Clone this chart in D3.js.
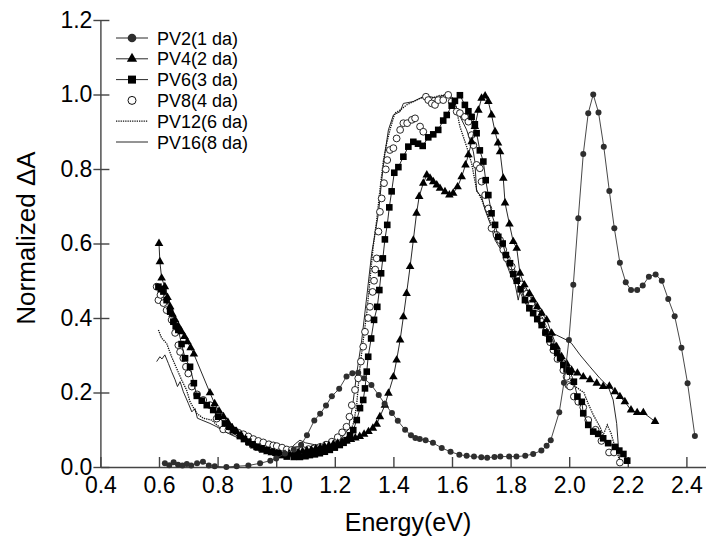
<!DOCTYPE html>
<html>
<head>
<meta charset="UTF-8">
<title>Normalized transient absorption</title>
<script src="https://cdn.jsdelivr.net/npm/d3@7"></script>
<style>
  body { margin: 0; background: #fff; }
  text { font-family: "Liberation Sans", Arial, Helvetica, sans-serif; }
</style>
</head>
<body>
<script>
// [energy (eV), normalized dA]
const pv2 = [[0.62,0.010],[0.635,0.005],[0.65,0.013],[0.665,0.006],[0.68,0.004],[0.695,0.008],[0.71,0.004],[0.73,0.010],[0.75,0.014],[0.77,0.004],[0.79,0.002],[0.83,0.000],[0.865,0.002],[0.905,0.004],[0.945,0.010],[0.98,0.017],[1.00,0.023],[1.03,0.036],[1.06,0.047],[1.085,0.060],[1.105,0.085],[1.13,0.125],[1.15,0.143],[1.17,0.165],[1.19,0.190],[1.215,0.210],[1.24,0.243],[1.26,0.252],[1.28,0.253],[1.30,0.238],[1.325,0.220],[1.35,0.193],[1.37,0.170],[1.395,0.145],[1.415,0.124],[1.44,0.100],[1.46,0.085],[1.475,0.078],[1.49,0.075],[1.51,0.072],[1.535,0.065],[1.565,0.051],[1.595,0.041],[1.625,0.033],[1.65,0.030],[1.675,0.028],[1.70,0.026],[1.72,0.025],[1.745,0.027],[1.765,0.028],[1.795,0.028],[1.82,0.028],[1.85,0.030],[1.877,0.035],[1.905,0.044],[1.923,0.057],[1.937,0.072],[1.966,0.147],[1.982,0.226],[1.999,0.341],[2.014,0.489],[2.031,0.668],[2.048,0.840],[2.065,0.950],[2.082,1.000],[2.10,0.952],[2.118,0.860],[2.137,0.741],[2.154,0.641],[2.173,0.548],[2.193,0.496],[2.211,0.475],[2.232,0.475],[2.251,0.487],[2.272,0.511],[2.295,0.517],[2.316,0.500],[2.338,0.451],[2.36,0.405],[2.383,0.320],[2.404,0.225],[2.429,0.083]];

const pv4 = [[0.600,0.600],[0.603,0.551],[0.609,0.507],[0.620,0.484],[0.629,0.455],[0.638,0.430],[0.646,0.41],[0.655,0.395],[0.666,0.378],[0.677,0.363],[0.687,0.350],[0.697,0.336],[0.708,0.320],[0.719,0.303],[0.774,0.199],[0.79,0.17],[0.805,0.15],[0.82,0.135],[0.835,0.12],[0.85,0.105],[0.865,0.095],[0.88,0.085],[0.895,0.074],[0.91,0.064],[0.925,0.056],[0.94,0.05],[0.955,0.045],[0.97,0.041],[0.985,0.038],[1.00,0.036],[1.015,0.034],[1.03,0.034],[1.045,0.035],[1.06,0.037],[1.075,0.039],[1.09,0.042],[1.105,0.044],[1.12,0.046],[1.135,0.049],[1.15,0.052],[1.165,0.055],[1.18,0.058],[1.195,0.061],[1.21,0.064],[1.225,0.067],[1.24,0.07],[1.255,0.074],[1.27,0.078],[1.285,0.082],[1.30,0.088],[1.315,0.095],[1.33,0.104],[1.343,0.115],[1.354,0.135],[1.371,0.166],[1.383,0.198],[1.40,0.242],[1.411,0.287],[1.423,0.341],[1.434,0.403],[1.445,0.466],[1.457,0.538],[1.468,0.609],[1.479,0.681],[1.488,0.726],[1.502,0.762],[1.514,0.784],[1.525,0.775],[1.536,0.766],[1.548,0.757],[1.559,0.748],[1.576,0.739],[1.591,0.730],[1.604,0.735],[1.619,0.752],[1.633,0.779],[1.646,0.811],[1.656,0.838],[1.667,0.873],[1.678,0.914],[1.690,0.958],[1.701,0.990],[1.713,0.996],[1.724,0.981],[1.735,0.945],[1.747,0.900],[1.757,0.870],[1.764,0.846],[1.775,0.775],[1.781,0.709],[1.796,0.652],[1.809,0.605],[1.821,0.587],[1.832,0.520],[1.847,0.489],[1.864,0.466],[1.877,0.448],[1.891,0.430],[1.906,0.413],[1.923,0.395],[1.940,0.359],[1.957,0.323],[1.974,0.296],[1.991,0.278],[2.008,0.260],[2.028,0.252],[2.048,0.242],[2.071,0.234],[2.094,0.225],[2.116,0.216],[2.137,0.217],[2.156,0.202],[2.173,0.189],[2.190,0.175],[2.211,0.153],[2.232,0.146],[2.253,0.146],[2.293,0.122]];

const pv6 = [[0.598,0.484],[0.606,0.478],[0.615,0.471],[0.626,0.448],[0.638,0.417],[0.649,0.390],[0.657,0.378],[0.666,0.368],[0.677,0.33],[0.689,0.292],[0.706,0.269],[0.719,0.225],[0.729,0.191],[0.746,0.178],[0.763,0.166],[0.785,0.153],[0.802,0.135],[0.825,0.117],[0.840,0.108],[0.854,0.099],[0.876,0.083],[0.890,0.075],[0.905,0.068],[0.919,0.061],[0.933,0.054],[0.950,0.050],[0.968,0.046],[0.985,0.041],[1.002,0.037],[1.020,0.032],[1.036,0.028],[1.06,0.027],[1.081,0.027],[1.10,0.029],[1.115,0.032],[1.132,0.034],[1.149,0.037],[1.166,0.041],[1.183,0.046],[1.20,0.052],[1.217,0.059],[1.23,0.065],[1.24,0.072],[1.252,0.085],[1.263,0.099],[1.275,0.126],[1.286,0.158],[1.297,0.180],[1.303,0.211],[1.309,0.256],[1.314,0.296],[1.324,0.345],[1.334,0.395],[1.345,0.430],[1.352,0.475],[1.358,0.520],[1.364,0.560],[1.371,0.611],[1.379,0.650],[1.386,0.697],[1.394,0.740],[1.403,0.790],[1.417,0.805],[1.434,0.833],[1.451,0.860],[1.468,0.873],[1.484,0.868],[1.500,0.862],[1.519,0.885],[1.536,0.893],[1.553,0.905],[1.570,0.930],[1.582,0.945],[1.599,0.970],[1.610,0.983],[1.627,0.998],[1.644,0.972],[1.656,0.955],[1.667,0.940],[1.678,0.920],[1.684,0.896],[1.695,0.850],[1.707,0.820],[1.715,0.770],[1.724,0.730],[1.735,0.681],[1.747,0.650],[1.758,0.618],[1.773,0.600],[1.784,0.569],[1.798,0.547],[1.809,0.518],[1.821,0.500],[1.834,0.477],[1.849,0.448],[1.864,0.426],[1.877,0.413],[1.891,0.397],[1.906,0.381],[1.919,0.361],[1.932,0.343],[1.946,0.323],[1.959,0.307],[1.969,0.292],[1.980,0.274],[1.991,0.262],[2.003,0.256],[2.016,0.229],[2.028,0.189],[2.043,0.175],[2.048,0.144],[2.065,0.113],[2.082,0.095],[2.099,0.089],[2.116,0.077],[2.133,0.064],[2.156,0.054],[2.171,0.044],[2.185,0.035],[2.198,0.017]];

const pv8 = [[0.592,0.484],[0.598,0.448],[0.605,0.462],[0.615,0.44],[0.626,0.421],[0.643,0.395],[0.655,0.36],[0.666,0.327],[0.672,0.309],[0.683,0.292],[0.692,0.269],[0.700,0.251],[0.712,0.216],[0.730,0.195],[0.751,0.180],[0.774,0.166],[0.797,0.13],[0.819,0.101],[0.837,0.1],[0.854,0.095],[0.871,0.092],[0.888,0.088],[0.905,0.082],[0.922,0.075],[0.939,0.07],[0.956,0.066],[0.975,0.061],[0.99,0.058],[1.002,0.056],[1.02,0.052],[1.036,0.047],[1.053,0.046],[1.07,0.046],[1.09,0.046],[1.11,0.048],[1.13,0.05],[1.15,0.054],[1.17,0.06],[1.19,0.068],[1.21,0.08],[1.225,0.093],[1.24,0.108],[1.25,0.135],[1.258,0.166],[1.269,0.207],[1.28,0.238],[1.289,0.283],[1.297,0.323],[1.303,0.363],[1.314,0.40],[1.32,0.43],[1.329,0.47],[1.334,0.50],[1.338,0.53],[1.343,0.56],[1.349,0.632],[1.354,0.685],[1.360,0.721],[1.368,0.762],[1.374,0.799],[1.379,0.824],[1.388,0.851],[1.400,0.856],[1.411,0.882],[1.423,0.905],[1.434,0.923],[1.447,0.923],[1.463,0.932],[1.474,0.936],[1.491,0.914],[1.502,0.900],[1.511,0.994],[1.519,0.985],[1.531,0.976],[1.542,0.972],[1.553,0.985],[1.570,0.985],[1.587,0.999],[1.599,0.981],[1.616,0.954],[1.627,0.950],[1.644,0.940],[1.656,0.927],[1.667,0.891],[1.673,0.864],[1.684,0.811],[1.695,0.802],[1.701,0.766],[1.713,0.730],[1.724,0.694],[1.735,0.641],[1.752,0.623],[1.764,0.609],[1.775,0.583],[1.787,0.560],[1.804,0.538],[1.821,0.515],[1.838,0.49],[1.855,0.465],[1.872,0.44],[1.89,0.41],[1.905,0.39],[1.92,0.36],[1.935,0.335],[1.946,0.314],[1.96,0.29],[1.98,0.260],[1.991,0.242],[1.997,0.220],[2.003,0.216],[2.016,0.189],[2.031,0.175],[2.048,0.16],[2.065,0.126],[2.09,0.10],[2.11,0.07],[2.136,0.039],[2.153,0.039],[2.173,0.012]];

const pv12 = [[0.598,0.368],[0.602,0.36],[0.609,0.346],[0.626,0.332],[0.643,0.296],[0.66,0.265],[0.677,0.234],[0.694,0.207],[0.706,0.175],[0.729,0.144],[0.751,0.131],[0.78,0.126],[0.797,0.113],[0.82,0.099],[0.85,0.09],[0.88,0.08],[0.91,0.07],[0.94,0.062],[0.97,0.055],[1.00,0.05],[1.03,0.045],[1.06,0.043],[1.09,0.043],[1.12,0.045],[1.15,0.048],[1.18,0.053],[1.21,0.06],[1.23,0.07],[1.25,0.09],[1.265,0.12],[1.275,0.17],[1.286,0.27],[1.297,0.34],[1.309,0.413],[1.32,0.502],[1.331,0.591],[1.343,0.663],[1.354,0.744],[1.366,0.824],[1.377,0.869],[1.39,0.91],[1.405,0.95],[1.423,0.958],[1.445,0.972],[1.468,0.981],[1.502,0.994],[1.53,0.99],[1.56,0.998],[1.59,0.995],[1.61,0.98],[1.627,0.914],[1.65,0.86],[1.667,0.815],[1.684,0.744],[1.70,0.72],[1.72,0.68],[1.74,0.64],[1.76,0.61],[1.78,0.58],[1.80,0.55],[1.82,0.52],[1.84,0.49],[1.86,0.465],[1.88,0.44],[1.90,0.415],[1.92,0.38],[1.94,0.34],[1.96,0.30],[1.98,0.274],[2.00,0.24],[2.014,0.22],[2.037,0.207],[2.05,0.2],[2.065,0.17],[2.082,0.14],[2.105,0.108],[2.116,0.086],[2.13,0.113],[2.143,0.09],[2.156,0.054],[2.168,0.028],[2.173,0.01]];

const pv16 = [[0.592,0.283],[0.603,0.296],[0.61,0.29],[0.62,0.301],[0.632,0.278],[0.643,0.256],[0.655,0.234],[0.663,0.216],[0.672,0.229],[0.683,0.202],[0.70,0.171],[0.712,0.148],[0.723,0.157],[0.731,0.131],[0.746,0.126],[0.774,0.117],[0.797,0.108],[0.82,0.097],[0.85,0.085],[0.88,0.075],[0.91,0.065],[0.94,0.055],[0.97,0.047],[1.00,0.04],[1.02,0.033],[1.036,0.037],[1.05,0.05],[1.065,0.062],[1.081,0.072],[1.10,0.065],[1.13,0.06],[1.16,0.058],[1.19,0.062],[1.22,0.075],[1.245,0.1],[1.26,0.16],[1.275,0.252],[1.292,0.341],[1.309,0.457],[1.326,0.574],[1.349,0.681],[1.36,0.77],[1.371,0.842],[1.383,0.905],[1.40,0.945],[1.423,0.954],[1.434,0.976],[1.468,0.981],[1.491,0.99],[1.52,0.995],[1.55,0.99],[1.582,1.003],[1.604,0.99],[1.622,0.95],[1.65,0.905],[1.661,0.878],[1.673,0.846],[1.678,0.82],[1.684,0.74],[1.701,0.726],[1.713,0.69],[1.73,0.654],[1.747,0.609],[1.764,0.587],[1.781,0.556],[1.798,0.52],[1.815,0.493],[1.826,0.448],[1.832,0.47],[1.85,0.44],[1.877,0.408],[1.911,0.381],[1.934,0.363],[1.957,0.354],[1.991,0.341],[2.008,0.332],[2.037,0.301],[2.071,0.269],[2.105,0.238],[2.133,0.216],[2.15,0.18],[2.162,0.117],[2.168,0.054],[2.173,0.01]];

const legendNames = ["PV2(1 da)", "PV4(2 da)", "PV6(3 da)", "PV8(4 da)", "PV12(6 da)", "PV16(8 da)"];
const xTicks = [0.4, 0.6, 0.8, 1.0, 1.2, 1.4, 1.6, 1.8, 2.0, 2.2, 2.4];
const yTicks = [0.0, 0.2, 0.4, 0.6, 0.8, 1.0, 1.2];

const width = 706, height = 537;
const x0 = 100.4, y0 = 467;

const x = d3.scaleLinear().domain([0.4, 2.5]).range([x0, x0 + 2.1 * 293]);
const y = d3.scaleLinear().domain([0, 1.2]).range([y0, y0 - 1.2 * 372.5]);

const svg = d3.select("body").append("svg")
    .attr("width", width).attr("height", height);

// axes
const xAxis = svg.append("g")
    .attr("transform", `translate(0,${y0})`)
    .call(d3.axisBottom(x).tickValues(xTicks).tickFormat(d3.format(".1f"))
        .tickSizeInner(-10).tickSizeOuter(0));
xAxis.selectAll(".tick text").attr("y", 10).attr("font-size", 23).attr("fill", "#000");

const yAxis = svg.append("g")
    .attr("transform", `translate(${x0},0)`)
    .call(d3.axisLeft(y).tickValues(yTicks).tickFormat(d3.format(".1f"))
        .tickSizeOuter(0));
yAxis.selectAll(".tick line").attr("x1", -7).attr("x2", 9);
yAxis.selectAll(".tick text").attr("x", -8).attr("font-size", 23).attr("fill", "#000");

svg.selectAll(".domain, .tick line").attr("stroke", "#444").attr("stroke-width", 1.4);

svg.append("text")
    .attr("x", 408).attr("y", 531)
    .attr("text-anchor", "middle").attr("font-size", 25)
    .text("Energy(eV)");

svg.append("text")
    .attr("transform", "translate(35,238) rotate(-90)")
    .attr("text-anchor", "middle").attr("font-size", 26)
    .text("Normalized \u0394A");

const line = d3.line().x(d => x(d[0])).y(d => y(d[1]));

// PV16 plain line, PV12 dotted line
svg.append("path").datum(pv16).attr("d", line)
    .attr("fill", "none").attr("stroke", "#111").attr("stroke-width", 0.9);
svg.append("path").datum(pv12).attr("d", line)
    .attr("fill", "none").attr("stroke", "#111").attr("stroke-width", 1.3)
    .attr("stroke-dasharray", "1.3,1");

// PV8 open circles
svg.append("g").selectAll("circle").data(pv8).join("circle")
    .attr("cx", d => x(d[0])).attr("cy", d => y(d[1])).attr("r", 3.4)
    .attr("fill", "#fff").attr("stroke", "#111").attr("stroke-width", 0.9);

// PV6 squares
svg.append("path").datum(pv6).attr("d", line)
    .attr("fill", "none").attr("stroke", "#111").attr("stroke-width", 0.9);
svg.append("g").selectAll("rect").data(pv6).join("rect")
    .attr("x", d => x(d[0]) - 3.3).attr("y", d => y(d[1]) - 3.3)
    .attr("width", 6.6).attr("height", 6.6).attr("fill", "#000");

// PV4 triangles
const tri = d3.symbol().type(d3.symbolTriangle).size(32);
svg.append("path").datum(pv4).attr("d", line)
    .attr("fill", "none").attr("stroke", "#111").attr("stroke-width", 0.9);
svg.append("g").selectAll("path").data(pv4).join("path")
    .attr("d", tri)
    .attr("transform", d => `translate(${x(d[0])},${y(d[1])})`)
    .attr("fill", "#000");

// PV2 filled circles
svg.append("path").datum(pv2).attr("d", line)
    .attr("fill", "none").attr("stroke", "#333").attr("stroke-width", 0.9);
svg.append("g").selectAll("circle").data(pv2).join("circle")
    .attr("cx", d => x(d[0])).attr("cy", d => y(d[1])).attr("r", 3)
    .attr("fill", "#2e2e2e");

// legend
const leg = svg.append("g");
const rowY = i => 38 + i * 20.8;
legendNames.forEach((name, i) => {
    const g = leg.append("g").attr("transform", `translate(0,${rowY(i)})`);
    if (i !== 3) {
        g.append("line").attr("x1", 116).attr("x2", 148)
            .attr("stroke", "#111").attr("stroke-width", i === 4 ? 1.3 : 0.9)
            .attr("stroke-dasharray", i === 4 ? "1.3,1" : null);
    }
    if (i === 0) g.append("circle").attr("cx", 132).attr("r", 4.3).attr("fill", "#2e2e2e");
    if (i === 1) g.append("path").attr("d", d3.symbol().type(d3.symbolTriangle).size(46)())
        .attr("transform", "translate(132,0)").attr("fill", "#000");
    if (i === 2) g.append("rect").attr("x", 128).attr("y", -4).attr("width", 8).attr("height", 8).attr("fill", "#000");
    if (i === 3) g.append("circle").attr("cx", 132).attr("r", 4).attr("fill", "#fff")
        .attr("stroke", "#111").attr("stroke-width", 1);
    g.append("text").attr("x", 157).attr("y", 6.5).attr("font-size", 18).text(name);
});
</script>
</body>
</html>
